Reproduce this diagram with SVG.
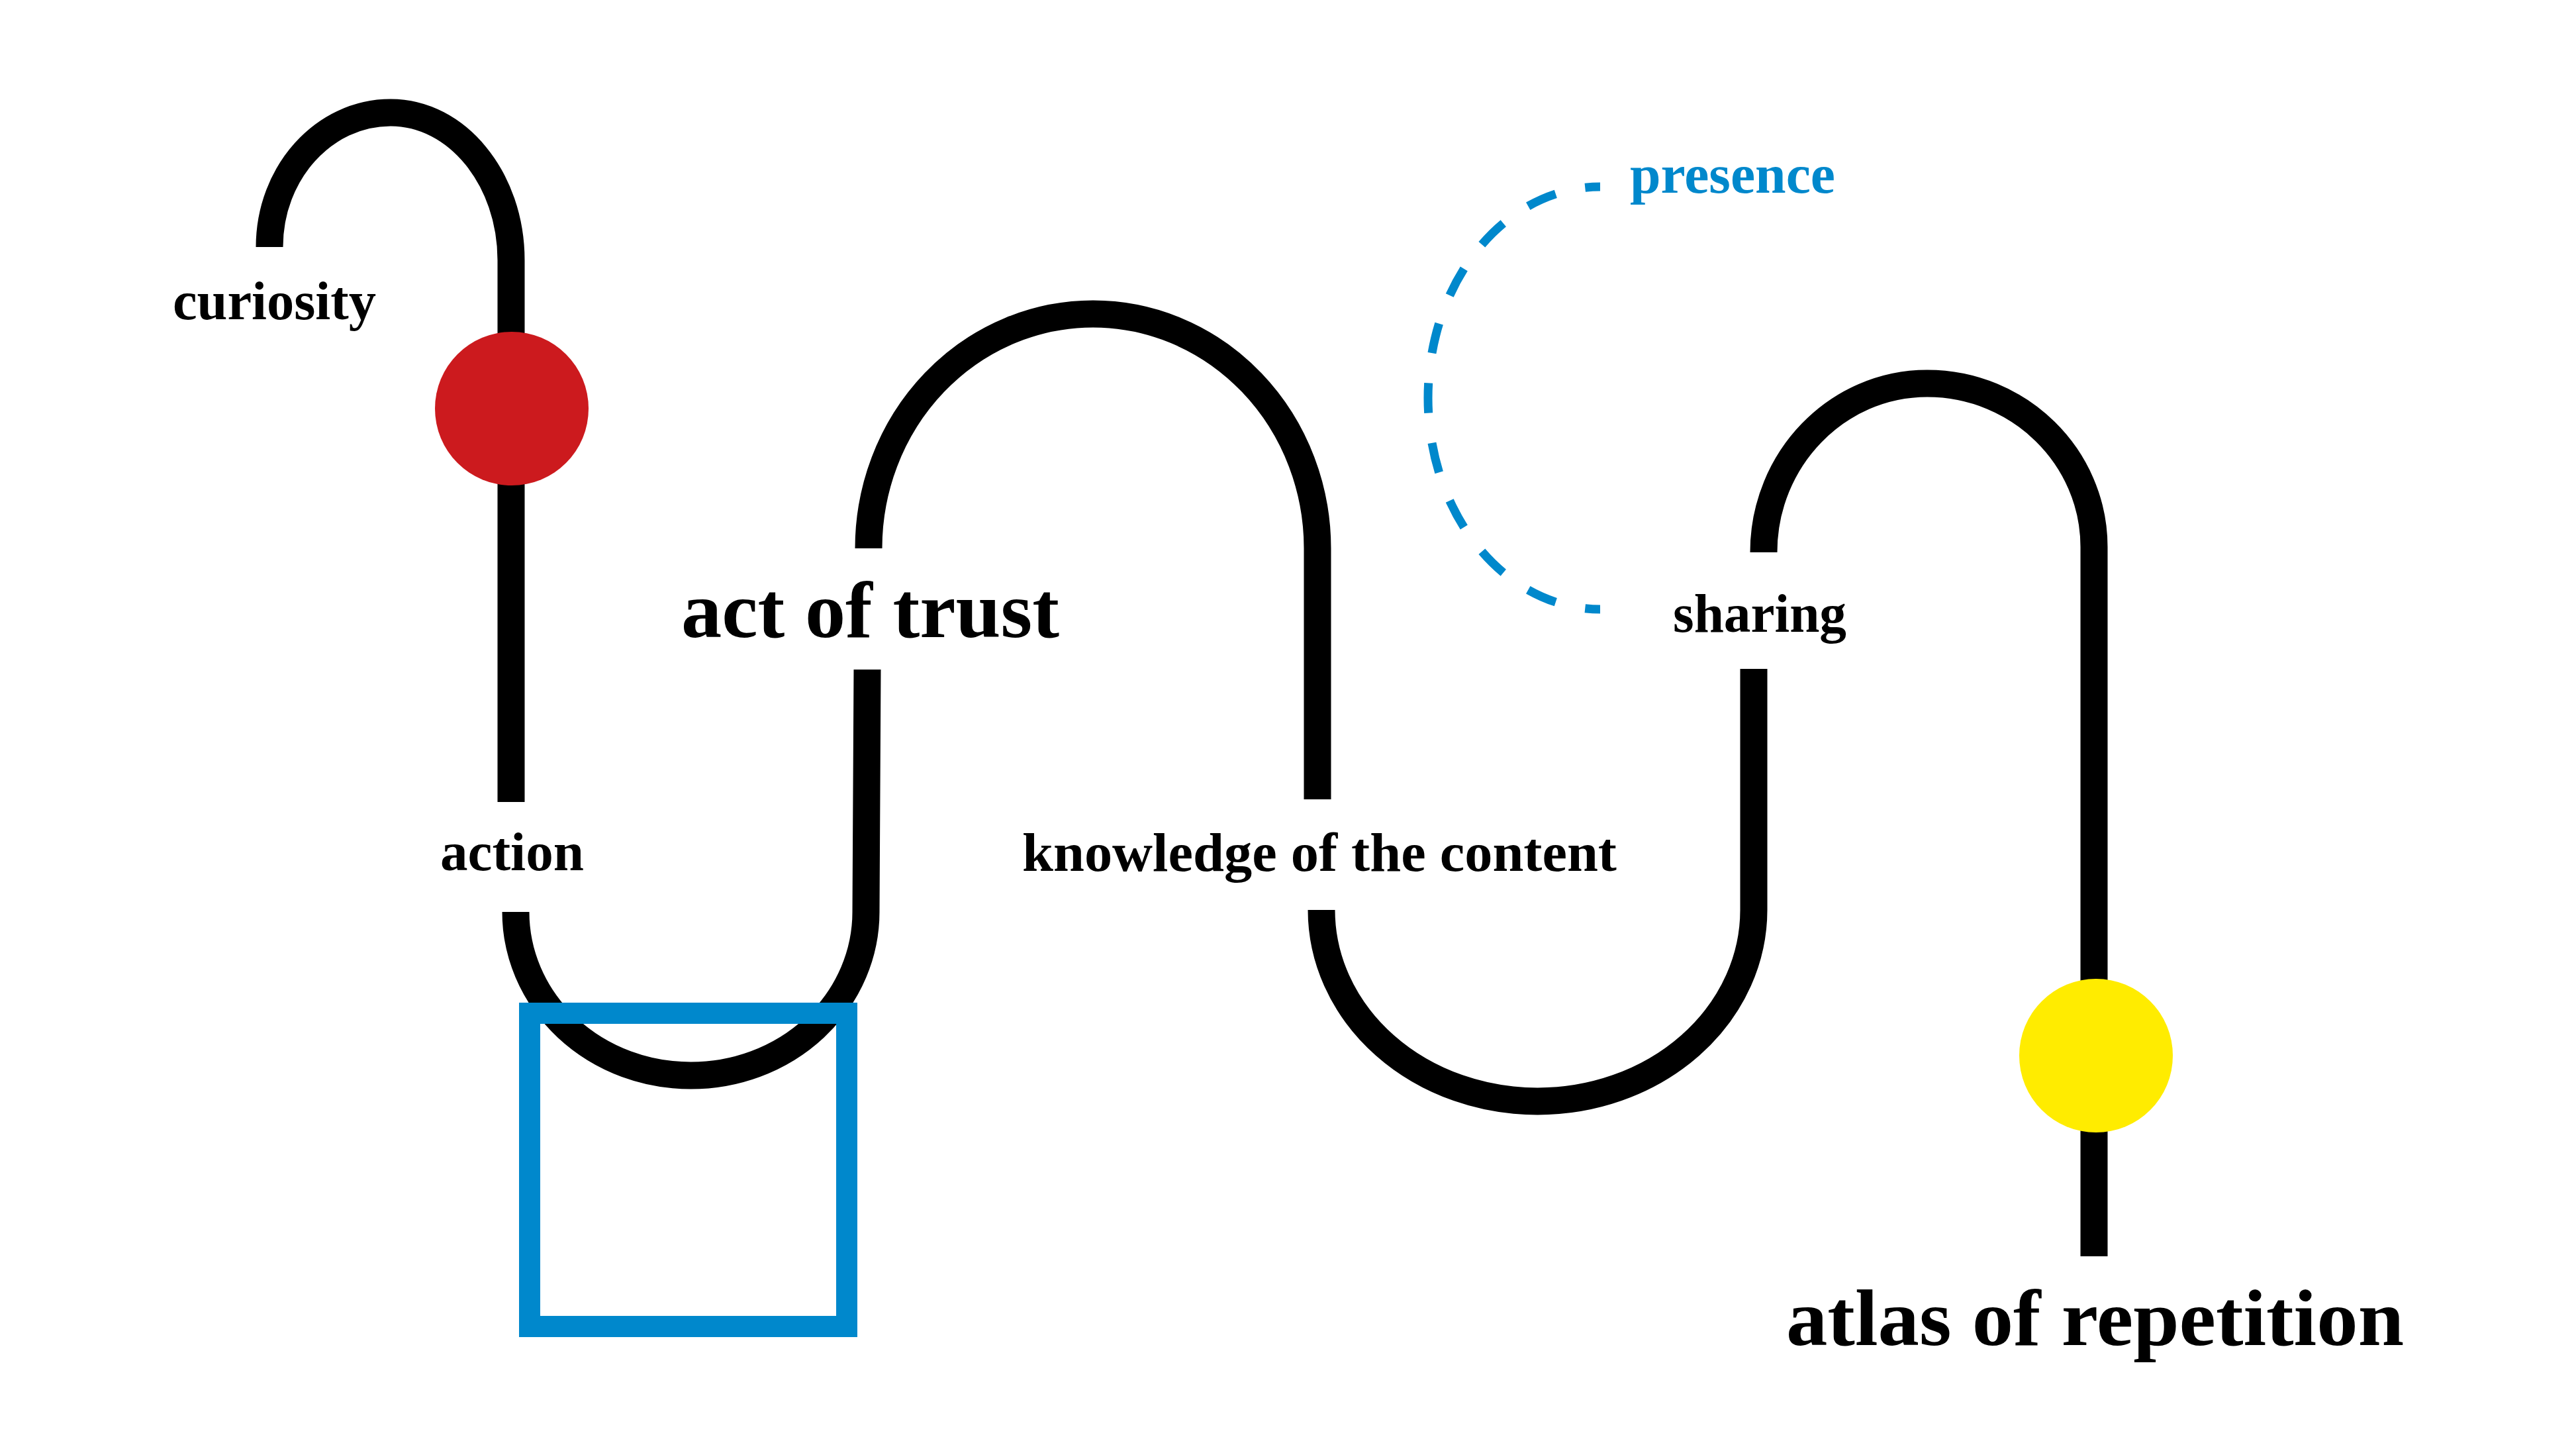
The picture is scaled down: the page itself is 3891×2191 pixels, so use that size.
<svg xmlns="http://www.w3.org/2000/svg" width="3891" height="2191" viewBox="0 0 3891 2191">
<style>
.bg{fill:#ffffff}
.line{fill:none;stroke:#000000;stroke-width:41;stroke-linecap:butt}
.dash{fill:none;stroke:#0088cc;stroke-width:13;stroke-linecap:butt;stroke-dasharray:2 2;stroke-dashoffset:1}
.lbl{font-family:"Liberation Serif","Times New Roman",serif;font-weight:bold;font-size:83px;fill:#000000}
.big{font-size:121px}
.blue{fill:#0088cc}
</style>
<rect class="bg" x="0" y="0" width="3891" height="2191"/>
<g id="connectors">
  <path class="line" d="M407,373 C407,261 489,170 590,170 C690.5,170 772,270 772,393 L772,1211"/>
  <path class="line" d="M779,1377 A264.5,247 0 0 0 1308,1377 L1310,1011"/>
  <path class="line" d="M1312,828 A339,354 0 0 1 1990,828 L1990,1207"/>
  <path class="line" d="M1996,1374 A326.5,289 0 0 0 2649,1374 L2649,1010"/>
  <path class="line" d="M2664,834 C2664,693 2775,579 2911,579 C3050,579 3163,690 3163,826 L3163,1897"/>
  <path class="dash" pathLength="40" d="M2417,282 A260,319 0 0 0 2417,920"/>
</g>
<g id="blue-square">
  <rect x="800" y="1530" width="479" height="473" fill="none" stroke="#0088cc" stroke-width="32"/>
</g>
<g id="red-dot">
  <circle cx="773" cy="617" r="116" fill="#cc1a1e"/>
</g>
<g id="yellow-dot">
  <circle cx="3166" cy="1594" r="116" fill="#ffec00"/>
</g>
<g id="curiosity">
  <text class="lbl" x="261" y="482" textLength="307" lengthAdjust="spacingAndGlyphs">curiosity</text>
</g>
<g id="action">
  <text class="lbl" x="665" y="1314" textLength="217" lengthAdjust="spacingAndGlyphs">action</text>
</g>
<g id="act-of-trust">
  <text class="lbl big" x="1029" y="962" textLength="571" lengthAdjust="spacingAndGlyphs">act of trust</text>
</g>
<g id="knowledge">
  <text class="lbl" x="1544" y="1315" textLength="898" lengthAdjust="spacingAndGlyphs">knowledge of the content</text>
</g>
<g id="sharing">
  <text class="lbl" x="2527" y="954" textLength="262" lengthAdjust="spacingAndGlyphs">sharing</text>
</g>
<g id="presence">
  <text class="lbl blue" x="2462" y="291" textLength="310" lengthAdjust="spacingAndGlyphs">presence</text>
</g>
<g id="atlas">
  <text class="lbl big" x="2698" y="2031" textLength="933" lengthAdjust="spacingAndGlyphs">atlas of repetition</text>
</g>
</svg>
